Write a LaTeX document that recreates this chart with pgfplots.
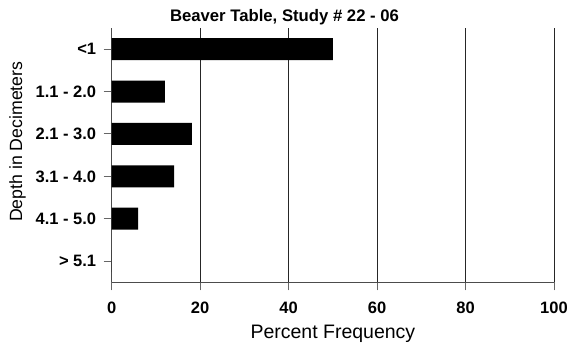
\documentclass[border=0pt]{standalone}
\usepackage{pgfplots}
\pgfplotsset{compat=1.18}
\usepackage{fontspec}
\setmainfont{Liberation Sans}
\begin{document}
\begin{tikzpicture}[x=1pt,y=1pt]
\path[use as bounding box] (0,0) rectangle (569,345);
\begin{axis}[
  at={(111.7pt,62.7pt)}, anchor=south west,
  scale only axis, width=442.3pt, height=254.3pt,
  xmin=0, xmax=100, ymin=-0.5, ymax=5.5, y dir=reverse,
  xbar, bar width=22pt,
  axis x line*=bottom, axis y line*=left,
  xtick={0,20,...,100}, ytick={0,...,5},
  yticklabels={{<1},{1.1 - 2.0},{2.1 - 3.0},{3.1 - 4.0},{4.1 - 5.0},{> 5.1}},
  tick align=outside, major tick length=8pt,
  xmajorgrids, grid style={black!85, line width=0.9pt},
  axis line style={black!70, line width=1pt},
  tick style={black!60, line width=1pt},
  /pgf/number format/assume math mode=true,
  ticklabel style={font=\bfseries\fontsize{16.5}{16.5}\selectfont},
  xticklabel style={yshift=-8pt},
  yticklabel style={xshift=-4pt},
]
\addplot[fill=black, draw=none] coordinates {(50,0) (12.0,1) (18.1,2) (14.1,3) (6.0,4) (0,5)};
\end{axis}
\node[anchor=base, font=\bfseries\fontsize{16.7}{16.7}\selectfont] at (284.5,323.3) {Beaver Table, Study \# 22 - 06};
\node[anchor=base, font=\fontsize{19.5}{19.5}\selectfont] at (332.9,7) {Percent Frequency};
\node[anchor=base, rotate=90, font=\fontsize{17.7}{17.7}\selectfont] at (22,203.3) {Depth in Decimeters};
\end{tikzpicture}
\end{document}
